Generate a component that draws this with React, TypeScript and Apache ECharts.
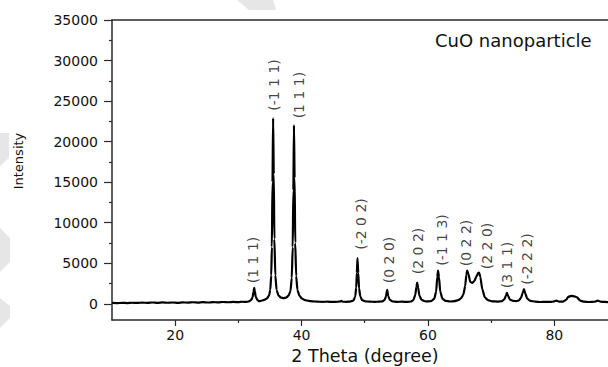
import React, { useEffect, useRef } from "react";
import * as echarts from "echarts";

// 2θ (degree), intensity
const xrdData: [number, number][] = [
  [10, 100], [10.8, 80], [11.6, 120], [12.4, 90], [13.2, 130], [14, 100], [14.8, 150], [15.6, 110],
  [16.4, 160], [17.2, 120], [18, 170], [18.8, 130], [19.6, 160], [20.4, 120], [21.2, 180], [22, 140],
  [22.8, 190], [23.6, 150], [24.4, 200], [25.2, 160], [26, 210], [26.8, 170], [27.6, 220], [28.4, 190],
  [29.2, 230], [30, 200], [30.6, 250], [31.2, 230],
  [31.6, 280], [32.0, 450], [32.25, 800], [32.4, 1500], [32.5, 1970], [32.6, 1600], [32.75, 850], [33.0, 480],
  [33.3, 320], [33.7, 380],
  [34.1, 480], [34.5, 650], [34.85, 1000], [35.05, 1700], [35.2, 3500], [35.3, 7000], [35.4, 15000],
  [35.5, 22900], [35.6, 16000], [35.7, 8000], [35.85, 3500], [36.05, 1700], [36.35, 1000], [36.75, 760],
  [37.15, 700],
  [37.55, 760], [37.95, 1000], [38.25, 1600], [38.45, 3200], [38.6, 7000], [38.7, 14000], [38.8, 22040],
  [38.9, 15500], [39.0, 7500], [39.15, 3400], [39.35, 1700], [39.65, 1000], [40.05, 650], [40.55, 450],
  [41.1, 350],
  [41.8, 300], [42.5, 260], [43.3, 240], [44.1, 260], [44.9, 230], [45.7, 250], [46.1, 280], [46.3, 370],
  [46.5, 260], [47.1, 240], [47.7, 270],
  [48.2, 400], [48.5, 900], [48.65, 2000], [48.75, 3800], [48.85, 5630], [48.97, 3800], [49.1, 1900],
  [49.3, 900], [49.6, 450], [50.1, 300],
  [50.8, 260], [51.6, 240], [52.3, 260],
  [52.8, 300], [53.15, 480], [53.35, 900], [53.55, 1720], [53.72, 950], [53.97, 480], [54.4, 280],
  [55.1, 240], [55.9, 260], [56.7, 230], [57.3, 280],
  [57.7, 450], [58.0, 1100], [58.18, 2100], [58.3, 2620], [58.45, 2000], [58.65, 1000], [59.0, 480],
  [59.5, 310], [60.0, 290],
  [60.5, 330], [61.0, 620], [61.3, 1500], [61.48, 3300], [61.6, 4100], [61.75, 3300], [61.95, 1500],
  [62.3, 620], [62.8, 360], [63.5, 280], [64.2, 320], [64.8, 450],
  [65.2, 650], [65.6, 1100], [65.9, 2200], [66.08, 3600], [66.2, 4100], [66.4, 3700], [66.7, 2700],
  [67.0, 2580], [67.35, 2800], [67.7, 3400], [67.95, 3800], [68.1, 3850], [68.3, 3300], [68.6, 1800],
  [69.0, 800], [69.5, 450], [70.2, 300], [71.0, 270], [71.7, 320],
  [72.1, 560], [72.35, 1000], [72.5, 1350], [72.7, 950], [73.0, 500], [73.5, 350], [74.0, 330],
  [74.4, 420], [74.75, 750], [75.0, 1350], [75.2, 1810], [75.4, 1300], [75.7, 650], [76.2, 360],
  [77.0, 260], [77.8, 220], [78.6, 240], [79.4, 230],
  [79.9, 280], [80.35, 400], [80.75, 260], [81.4, 270],
  [81.9, 500], [82.2, 850], [82.7, 980], [83.2, 920], [83.6, 780], [84.1, 400], [84.7, 260], [85.5, 220],
  [86.3, 250], [86.9, 400], [87.3, 260], [88.0, 230], [88.5, 210],
];

const hklNames = ["(1 1 1)", "(-1 1 1)", "(1 1 1)", "(-2 0 2)", "(0 2 0)", "(2 0 2)", "(-1 1 3)", "(0 2 2)", "(2 2 0)", "(3 1 1)", "(-2 2 2)"];
const hklX = [32.32, 35.64, 39.6, 49.41, 53.84, 58.43, 62.23, 66.03, 69.35, 72.52, 75.69];
const hklY = [5400, 26980, 25740, 9840, 5400, 6510, 7870, 7500, 7130, 4780, 5520];

const xMajorTicks = [20, 40, 60, 80];
const xMinorTicks = [30, 50, 70];
const yMajorTicks = [0, 5000, 10000, 15000, 20000, 25000, 30000, 35000];
const yMinorTicks = [2500, 7500, 12500, 17500, 22500, 27500, 32500];

const X_MIN = 10;
const X_MAX = 88.5;
const Y_MIN = -2000;
const Y_MAX = 35000;

const FONT = "DejaVu Sans";
const AXIS_COLOR = "#2a2a2a";
const TEXT_COLOR = "#111";

export default function App() {
  const ref = useRef<HTMLDivElement>(null);

  useEffect(() => {
    document.body.style.margin = "0";
    const chart = echarts.init(ref.current!, null, { renderer: "svg" });
    const axisLineStyle = { color: AXIS_COLOR, width: 1.5 };
    const plain = (v: number) => String(v);
    chart.setOption({
      animation: false,
      backgroundColor: "#ffffff",
      grid: { left: 112, top: 20, right: 0, bottom: 47, containLabel: false },
      xAxis: [
        {
          type: "value", min: X_MIN, max: X_MAX, position: "bottom",
          axisLine: { show: true, onZero: false, lineStyle: axisLineStyle },
          axisTick: { show: true, customValues: xMajorTicks, length: 6, lineStyle: { color: AXIS_COLOR, width: 1.2 } },
          axisLabel: { show: true, customValues: xMajorTicks, formatter: plain, margin: 8, fontSize: 14, fontFamily: FONT, color: TEXT_COLOR },
          splitLine: { show: false },
        },
        {
          type: "value", min: X_MIN, max: X_MAX, position: "bottom",
          axisLine: { show: false, onZero: false },
          axisTick: { show: true, customValues: xMinorTicks, length: 3, lineStyle: { color: AXIS_COLOR, width: 1.2 } },
          axisLabel: { show: false },
          splitLine: { show: false },
        },
        {
          type: "value", min: X_MIN, max: X_MAX, position: "top",
          axisLine: { show: true, onZero: false, lineStyle: axisLineStyle },
          axisTick: { show: false },
          axisLabel: { show: false },
          splitLine: { show: false },
        },
      ],
      yAxis: [
        {
          type: "value", min: Y_MIN, max: Y_MAX, position: "left",
          axisLine: { show: true, onZero: false, lineStyle: axisLineStyle },
          axisTick: { show: true, customValues: yMajorTicks, length: 8, lineStyle: { color: AXIS_COLOR, width: 1.2 } },
          axisLabel: { show: true, customValues: yMajorTicks, formatter: plain, margin: 14, fontSize: 14, fontFamily: FONT, color: TEXT_COLOR },
          splitLine: { show: false },
        },
        {
          type: "value", min: Y_MIN, max: Y_MAX, position: "left",
          axisLine: { show: false, onZero: false },
          axisTick: { show: true, customValues: yMinorTicks, length: 3, lineStyle: { color: AXIS_COLOR, width: 1.2 } },
          axisLabel: { show: false },
          splitLine: { show: false },
        },
      ],
      series: [
        {
          type: "line",
          xAxisIndex: 0,
          yAxisIndex: 0,
          data: xrdData,
          showSymbol: false,
          smooth: 0.2,
          smoothMonotone: "x",
          lineStyle: { color: "#000", width: 2.2 },
          z: 3,
        },
        {
          type: "scatter",
          xAxisIndex: 0,
          yAxisIndex: 0,
          symbolSize: 1,
          itemStyle: { color: "rgba(0,0,0,0)" },
          data: hklNames.map((n, i) => ({ name: n, value: [hklX[i], hklY[i]] })),
          label: {
            show: true,
            position: "inside",
            rotate: 90,
            formatter: (p: any) => p.name,
            fontSize: 14,
            fontFamily: FONT,
            color: TEXT_COLOR,
          },
          z: 4,
        },
      ],
      graphic: [
        { type: "polygon", z: -10, shape: { points: [[237, 0], [273, 0], [276, 10], [249, 10]] }, style: { fill: "#e6e6e6" } },
        { type: "polygon", z: -10, shape: { points: [[0, 133], [9, 133], [9, 158], [0, 166]] }, style: { fill: "#e6e6e6" } },
        { type: "polygon", z: -10, shape: { points: [[0, 228], [10, 238], [10, 262], [0, 272]] }, style: { fill: "#e6e6e6" } },
        { type: "polygon", z: -10, shape: { points: [[0, 298], [10, 306], [10, 318], [0, 328]] }, style: { fill: "#e6e6e6" } },
        {
          type: "text", x: 435, y: 40,
          style: { text: "CuO nanoparticle", font: `18px "${FONT}"`, fill: TEXT_COLOR, align: "left", verticalAlign: "middle" },
        },
        {
          type: "text", x: 18, y: 161, rotation: Math.PI / 2,
          style: { text: "Intensity", font: `13px "${FONT}"`, fill: TEXT_COLOR, align: "center", verticalAlign: "middle" },
        },
        {
          type: "text", x: 365, y: 356,
          style: { text: "2 Theta (degree)", font: `17.5px "${FONT}"`, lineHeight: 18, fill: TEXT_COLOR, align: "center", verticalAlign: "middle" },
        },
      ],
    });
    return () => chart.dispose();
  }, []);

  return <div ref={ref} style={{ position: "absolute", left: 0, top: 0, width: 608, height: 367 }} />;
}
